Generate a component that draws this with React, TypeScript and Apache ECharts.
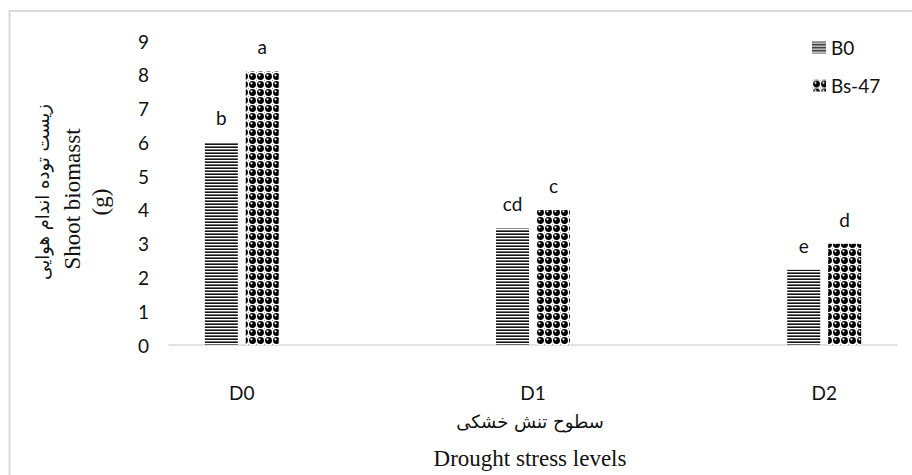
import React, { useEffect, useRef } from 'react';
import * as echarts from 'echarts';

const categories = ['D0', 'D1', 'D2'];
const seriesNames = ['B0', 'Bs-47'];
const b0Values = [6.0, 3.45, 2.23];
const bs47Values = [8.1, 4.0, 3.0];
const b0Letters = ['b', 'cd', 'e'];
const bs47Letters = ['a', 'c', 'd'];
const yMin = 0;
const yMax = 9;
const yInterval = 1;
const yTitleLines = ['زیست توده اندام هوایی', 'Shoot biomasst', '(g)'];
const xTitleLines = ['سطوح تنش خشکی', 'Drought stress levels'];

// category slots: categories sit at 10%, 50%, 90% of the axis
const SLOT = 4;
const axisSlots: string[] = Array.from({ length: categories.length * SLOT - 1 }, () => '');
categories.forEach((c, i) => (axisSlots[1 + SLOT * i] = c));

function padded(values: number[], letters: string[]) {
  const arr: any[] = axisSlots.map(() => '-');
  values.forEach((v, i) => (arr[1 + SLOT * i] = { value: v, letter: letters[i] }));
  return arr;
}

function stripeCanvas() {
  const c = document.createElement('canvas');
  c.width = 4;
  c.height = 3;
  const ctx = c.getContext('2d')!;
  ctx.fillStyle = '#ffffff';
  ctx.fillRect(0, 0, 4, 3);
  ctx.fillStyle = '#151515';
  ctx.fillRect(0, 0, 4, 1);
  ctx.fillStyle = '#6e6e6e';
  ctx.fillRect(0, 2, 4, 1);
  return c;
}

function sphereCanvas() {
  const c = document.createElement('canvas');
  c.width = 8;
  c.height = 8;
  const ctx = c.getContext('2d')!;
  ctx.fillStyle = '#ffffff';
  ctx.fillRect(0, 0, 8, 8);
  ctx.fillStyle = '#000000';
  ctx.beginPath();
  ctx.arc(4.5, 4.5, 3.45, 0, Math.PI * 2);
  ctx.fill();
  ctx.fillStyle = '#9a9a9a';
  ctx.fillRect(0, 0, 1, 1);
  ctx.fillStyle = '#ffffff';
  ctx.beginPath();
  ctx.arc(3.5, 3.3, 1.1, 0, Math.PI * 2);
  ctx.fill();
  return c;
}

export default function App() {
  const ref = useRef<HTMLDivElement>(null);
  useEffect(() => {
    const chart = echarts.init(ref.current!, undefined, { renderer: 'svg' });
    const stripe = { image: stripeCanvas(), repeat: 'repeat' };
    const sphere = { image: sphereCanvas(), repeat: 'repeat' };
    const labelStyle = {
      show: true,
      position: 'top',
      distance: 15,
      fontSize: 19,
      fontFamily: 'Lato',
      color: '#111',
      formatter: (p: any) => (p.data && p.data.letter) || '',
    };
    const option: any = {
      animation: false,
      backgroundColor: '#ffffff',
      grid: { left: 169, right: 15, top: 41, bottom: 130, containLabel: false },
      legend: {
        orient: 'vertical',
        left: 812,
        top: 38,
        padding: 0,
        icon: 'rect',
        itemWidth: 14,
        itemHeight: 12,
        itemGap: 19,
        textStyle: { fontSize: 19, fontFamily: 'Lato', color: '#111' },
        data: seriesNames,
      },
      xAxis: {
        type: 'category',
        data: axisSlots,
        boundaryGap: false,
        axisLine: { show: true, lineStyle: { color: '#d9d9d9', width: 1.5 } },
        axisTick: { show: false },
        splitLine: { show: false },
        axisLabel: { interval: 0, margin: 38, fontSize: 19, fontFamily: 'Lato', color: '#111' },
      },
      yAxis: {
        type: 'value',
        min: yMin,
        max: yMax,
        interval: yInterval,
        axisLine: { show: false },
        axisTick: { show: false },
        splitLine: { show: false },
        axisLabel: { margin: 20, fontSize: 19, fontFamily: 'Lato', color: '#111' },
      },
      series: [
        {
          name: seriesNames[0],
          type: 'bar',
          barWidth: 33,
          barGap: '24%',
          itemStyle: { color: stripe },
          label: labelStyle,
          data: padded(b0Values, b0Letters),
        },
        {
          name: seriesNames[1],
          type: 'bar',
          barWidth: 33,
          barGap: '24%',
          itemStyle: { color: sphere },
          label: labelStyle,
          data: padded(bs47Values, bs47Letters),
        },
      ],
      graphic: [
        {
          type: 'rect',
          silent: true,
          shape: { x: 9.5, y: 11, width: 1200, height: 1200 },
          style: { fill: 'none', stroke: '#d9d9d9', lineWidth: 2 },
        },
        {
          type: 'text',
          x: 42,
          y: 192,
          rotation: Math.PI / 2,
          style: {
            text: yTitleLines[0],
            fontSize: 18,
            fontFamily: 'DejaVu Sans',
            fill: '#111',
            textAlign: 'center',
            textVerticalAlign: 'middle',
          },
        },
        {
          type: 'text',
          x: 72,
          y: 199,
          rotation: Math.PI / 2,
          style: {
            text: yTitleLines[1],
            fontSize: 23,
            fontFamily: 'Liberation Serif',
            fill: '#111',
            textAlign: 'center',
            textVerticalAlign: 'middle',
          },
        },
        {
          type: 'text',
          x: 100,
          y: 202,
          rotation: Math.PI / 2,
          style: {
            text: yTitleLines[2],
            fontSize: 23,
            fontFamily: 'Liberation Serif',
            fill: '#111',
            textAlign: 'center',
            textVerticalAlign: 'middle',
          },
        },
        {
          type: 'text',
          x: 530,
          y: 421,
          style: {
            text: xTitleLines[0],
            fontSize: 18,
            fontFamily: 'DejaVu Sans',
            fill: '#111',
            textAlign: 'center',
            textVerticalAlign: 'middle',
          },
        },
        {
          type: 'text',
          x: 530,
          y: 458,
          style: {
            text: xTitleLines[1],
            fontSize: 23,
            fontFamily: 'Liberation Serif',
            fill: '#111',
            textAlign: 'center',
            textVerticalAlign: 'middle',
          },
        },
      ],
    };
    chart.setOption(option);
    return () => chart.dispose();
  }, []);
  return (
    <div
      ref={ref}
      style={{ position: 'fixed', left: 0, top: 0, width: 912, height: 475, background: '#fff' }}
    />
  );
}
